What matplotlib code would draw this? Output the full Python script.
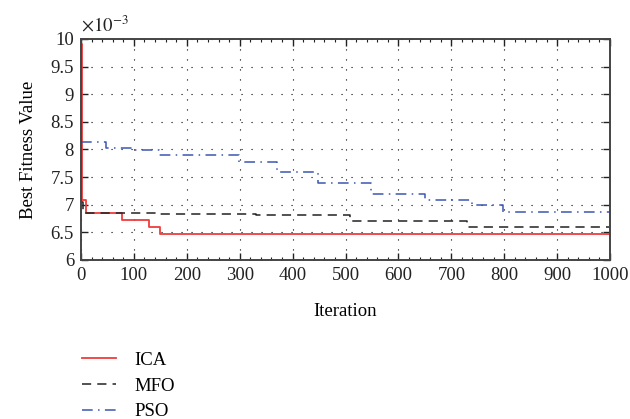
import numpy as np
import matplotlib.pyplot as plt
from matplotlib.ticker import FuncFormatter, MultipleLocator

plt.rcParams["font.family"] = "Liberation Serif"
plt.rcParams["mathtext.fontset"] = "stix"

# convergence curves (step change points), fitness in units of 1e-3
ica_iter = [0, 2, 10, 77, 129, 150, 1000]
ica_fit = [9.9, 7.08, 6.856, 6.724, 6.59, 6.476, 6.476]

mfo_iter = [0, 4, 150, 330, 508, 730, 1000]
mfo_fit = [7.05, 6.855, 6.83, 6.81, 6.71, 6.60, 6.60]

pso_iter = [0, 48, 99, 148, 299, 370, 448, 549, 650, 739, 798, 1000]
pso_fit = [8.13, 8.03, 7.99, 7.895, 7.78, 7.59, 7.40, 7.19, 7.09, 7.0, 6.87, 6.87]

fs = 13.5

fig = plt.figure(figsize=(6.3, 4.19), dpi=100)
ax = fig.add_axes([0.1286, 0.3795, 0.8397, 0.5275])

ax.step(ica_iter, ica_fit, where="post", color="#f03c3c",
        linewidth=1.3, label="ICA")
ax.step(mfo_iter, mfo_fit, where="post", color="#222222",
        linewidth=1.1, linestyle=(0, (6, 4)), label="MFO")
ax.step(pso_iter, pso_fit, where="post", color="#3a56b0",
        linewidth=1.1, linestyle=(0, (7, 3.5, 1, 3.5)), label="PSO")

ax.set_xlim(0, 1000)
ax.set_ylim(6, 10)
ax.xaxis.set_major_locator(MultipleLocator(100))
ax.xaxis.set_minor_locator(MultipleLocator(20))
ax.yaxis.set_major_locator(MultipleLocator(0.5))
ax.yaxis.set_major_formatter(FuncFormatter(lambda v, p: "%g" % v))
ax.text(0.0, 1.015, r"$\times10^{-3}$", transform=ax.transAxes,
        fontsize=fs, ha="left", va="bottom", color="#222222")

ax.tick_params(which="both", direction="in", top=True, right=True,
               labelsize=fs, colors="#222222", pad=5)
ax.tick_params(which="major", length=5, width=1.0)
ax.tick_params(which="minor", length=2.5, width=0.8)
for s in ax.spines.values():
    s.set_linewidth(1.4)
    s.set_color("#444444")

ax.grid(True, which="major", color="black", linestyle=(0, (1, 8)), linewidth=0.8)

ax.set_xlabel("Iteration", fontsize=fs, labelpad=14)
ax.set_ylabel("Best Fitness Value", fontsize=fs, labelpad=10)

fig.legend(loc="upper left", bbox_to_anchor=(0.118, 0.178), frameon=False,
           fontsize=fs, handlelength=1.8, labelspacing=0.45, handletextpad=1.0,
           borderaxespad=0)

fig.savefig("out.png", dpi=100)
